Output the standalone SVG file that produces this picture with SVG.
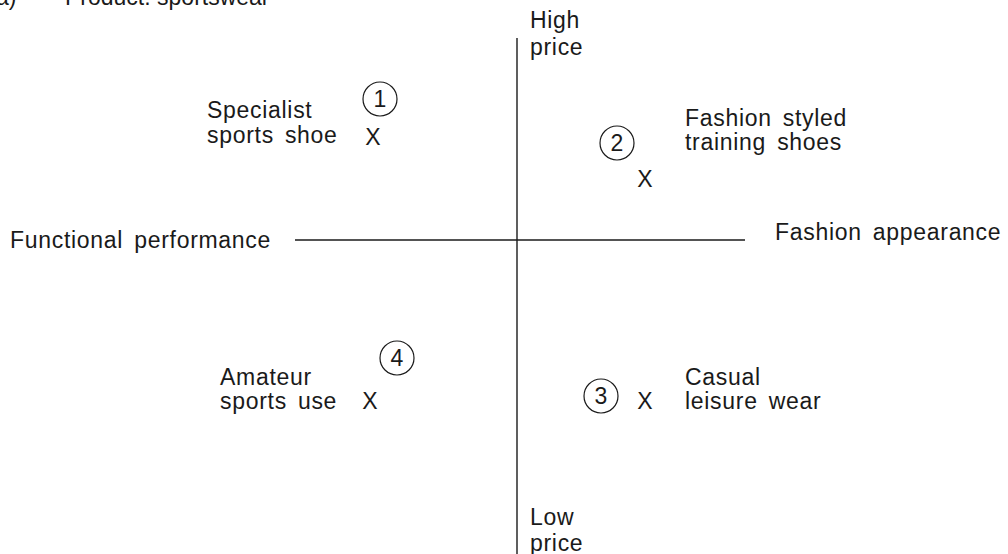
<svg xmlns="http://www.w3.org/2000/svg" width="1008" height="554" viewBox="0 0 1008 554">
  <style>
    text { font-family: "Liberation Sans", Arial, sans-serif; font-size: 23px; letter-spacing: 0.7px; word-spacing: 4px; fill: #1a1a1a; }
    .title { letter-spacing: 0; word-spacing: 0; }
    .axis { stroke: #1a1a1a; stroke-width: 1.4; fill: none; }
    .mark { fill: none; stroke: #1a1a1a; stroke-width: 1.2; }
    .num { text-anchor: middle; letter-spacing: 0; }
  </style>
  <rect width="1008" height="554" fill="#ffffff"/>
  <text class="title" x="-4" y="5">a)</text>
  <text class="title" x="65" y="5">Product: sportswear</text>

  <g id="connectors">
    <line class="axis" x1="517" y1="38" x2="517" y2="554"/>
    <line class="axis" x1="295" y1="240" x2="745" y2="240"/>
  </g>

  <g id="axis-labels">
    <text x="530" y="28">High</text>
    <text x="530" y="55">price</text>
    <text x="530" y="525">Low</text>
    <text x="530" y="551">price</text>
    <text x="10" y="248">Functional performance</text>
    <text x="775" y="240">Fashion appearance</text>
  </g>

  <g id="node-1">
    <text x="207" y="118">Specialist</text>
    <text x="207" y="143">sports shoe</text>
    <circle class="mark" cx="380" cy="99" r="17"/>
    <text class="num" x="380" y="107">1</text>
    <text class="num" x="373" y="145">X</text>
  </g>

  <g id="node-2">
    <text x="685" y="126">Fashion styled</text>
    <text x="685" y="150">training shoes</text>
    <circle class="mark" cx="617" cy="143" r="17"/>
    <text class="num" x="617" y="151">2</text>
    <text class="num" x="645" y="187">X</text>
  </g>

  <g id="node-3">
    <text x="685" y="385">Casual</text>
    <text x="685" y="409">leisure wear</text>
    <circle class="mark" cx="601" cy="396" r="17"/>
    <text class="num" x="601" y="404">3</text>
    <text class="num" x="645" y="409">X</text>
  </g>

  <g id="node-4">
    <text x="220" y="385">Amateur</text>
    <text x="220" y="409">sports use</text>
    <circle class="mark" cx="397" cy="358" r="17"/>
    <text class="num" x="397" y="366">4</text>
    <text class="num" x="370" y="409">X</text>
  </g>
</svg>
